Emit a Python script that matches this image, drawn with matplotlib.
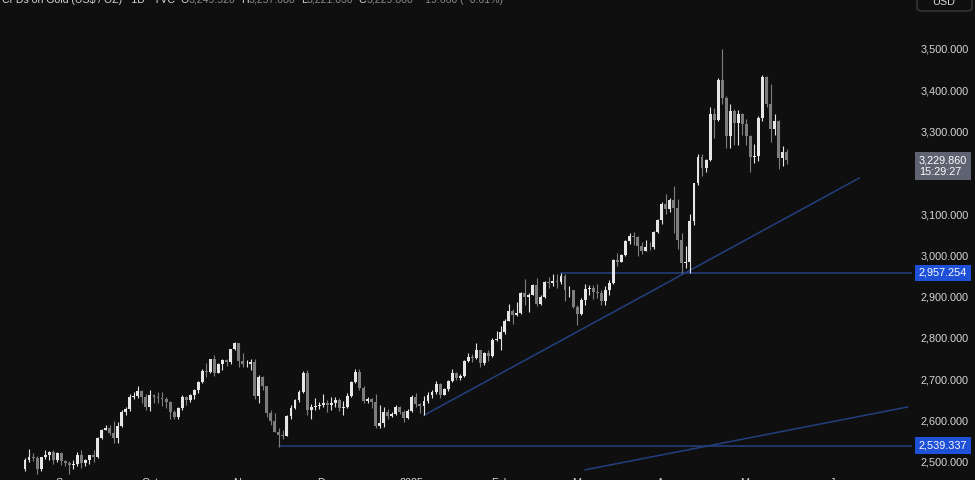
import numpy as np
import pandas as pd
import matplotlib
matplotlib.use("Agg")
from matplotlib import pyplot as plt
from matplotlib.patches import FancyBboxPatch

# CFDs on Gold (US$ / OZ), daily candles: (open, high, low, close)
aug_2024 = [(2483, 2510, 2478, 2504), (2504, 2531, 2500, 2513), (2513, 2521, 2502, 2509),
            (2509, 2514, 2470, 2484), (2484, 2513, 2478, 2512), (2512, 2528, 2508, 2518),
            (2518, 2526, 2506, 2524), (2524, 2528, 2494, 2504), (2504, 2524, 2500, 2521),
            (2521, 2524, 2493, 2503)]
sep_2024 = [(2503, 2505, 2490, 2497), (2497, 2503, 2472, 2493), (2493, 2504, 2484, 2495),
            (2495, 2524, 2491, 2516), (2516, 2529, 2485, 2497), (2497, 2507, 2491, 2506),
            (2506, 2517, 2495, 2516), (2516, 2529, 2500, 2512), (2512, 2560, 2510, 2558),
            (2558, 2581, 2556, 2578), (2578, 2590, 2577, 2582), (2582, 2589, 2566, 2569),
            (2569, 2600, 2546, 2559), (2559, 2596, 2547, 2587), (2587, 2625, 2585, 2622),
            (2622, 2634, 2614, 2628), (2628, 2664, 2624, 2657), (2657, 2670, 2652, 2659),
            (2659, 2685, 2655, 2672), (2672, 2674, 2643, 2658), (2658, 2665, 2625, 2634)]
oct_2024 = [(2634, 2673, 2624, 2663), (2663, 2664, 2642, 2658), (2658, 2670, 2643, 2656),
            (2656, 2670, 2635, 2653), (2653, 2657, 2631, 2644), (2644, 2648, 2604, 2622),
            (2622, 2625, 2603, 2608), (2608, 2633, 2605, 2631), (2631, 2661, 2626, 2657),
            (2657, 2659, 2637, 2649), (2649, 2664, 2644, 2662), (2662, 2677, 2653, 2674),
            (2674, 2696, 2666, 2693), (2693, 2725, 2690, 2721), (2721, 2740, 2705, 2718),
            (2718, 2749, 2716, 2748), (2748, 2758, 2708, 2716), (2716, 2740, 2715, 2736),
            (2736, 2749, 2722, 2747), (2747, 2748, 2732, 2743), (2743, 2774, 2738, 2774),
            (2774, 2790, 2771, 2788), (2788, 2789, 2730, 2744)]
nov_2024 = [(2744, 2763, 2731, 2736), (2736, 2746, 2729, 2738), (2738, 2750, 2723, 2743),
            (2743, 2749, 2652, 2659), (2659, 2710, 2643, 2706), (2706, 2709, 2673, 2684),
            (2684, 2685, 2610, 2619), (2619, 2626, 2589, 2598), (2598, 2618, 2573, 2573),
            (2573, 2583, 2537, 2566), (2566, 2578, 2556, 2563), (2563, 2614, 2562, 2612),
            (2612, 2639, 2604, 2631), (2631, 2653, 2627, 2651), (2651, 2674, 2645, 2670),
            (2670, 2721, 2666, 2715), (2715, 2722, 2614, 2625), (2625, 2640, 2605, 2632),
            (2632, 2656, 2625, 2636), (2636, 2646, 2627, 2639), (2639, 2665, 2634, 2643)]
dec_2024 = [(2643, 2651, 2622, 2639), (2639, 2657, 2625, 2643), (2643, 2658, 2632, 2650),
            (2650, 2656, 2623, 2631), (2631, 2647, 2614, 2633), (2633, 2668, 2630, 2660),
            (2660, 2696, 2657, 2694), (2694, 2726, 2690, 2718), (2718, 2726, 2674, 2680),
            (2680, 2685, 2642, 2648), (2648, 2658, 2643, 2652), (2652, 2655, 2631, 2646),
            (2646, 2664, 2583, 2586), (2586, 2637, 2583, 2594), (2594, 2632, 2584, 2622),
            (2622, 2627, 2603, 2612), (2612, 2622, 2609, 2617), (2617, 2639, 2613, 2634),
            (2634, 2636, 2616, 2621), (2621, 2625, 2597, 2606), (2606, 2629, 2605, 2624)]
jan_2025 = [(2624, 2662, 2621, 2658), (2658, 2666, 2634, 2640), (2640, 2643, 2618, 2636),
            (2636, 2660, 2613, 2648), (2648, 2670, 2643, 2662), (2662, 2675, 2656, 2670),
            (2670, 2697, 2665, 2689), (2689, 2691, 2656, 2662), (2662, 2679, 2661, 2677),
            (2677, 2699, 2671, 2696), (2696, 2725, 2694, 2715), (2715, 2718, 2698, 2702),
            (2702, 2713, 2698, 2708), (2708, 2746, 2705, 2745), (2745, 2763, 2741, 2755),
            (2755, 2762, 2743, 2751), (2751, 2787, 2750, 2771), (2771, 2772, 2730, 2740),
            (2740, 2765, 2735, 2763), (2763, 2770, 2745, 2757), (2757, 2799, 2753, 2795),
            (2795, 2817, 2792, 2798)]
feb_2025 = [(2798, 2830, 2772, 2815), (2815, 2845, 2810, 2842), (2842, 2882, 2840, 2866),
            (2866, 2869, 2834, 2856), (2856, 2886, 2853, 2861), (2861, 2911, 2857, 2908),
            (2908, 2942, 2880, 2898), (2898, 2910, 2864, 2905), (2905, 2930, 2903, 2928),
            (2928, 2945, 2877, 2883), (2883, 2905, 2880, 2899), (2899, 2938, 2896, 2935),
            (2935, 2947, 2922, 2933), (2933, 2955, 2925, 2939), (2939, 2954, 2920, 2935),
            (2935, 2957, 2931, 2951), (2951, 2956, 2890, 2915), (2915, 2927, 2900, 2916),
            (2916, 2917, 2872, 2876), (2876, 2880, 2832, 2858)]
mar_2025 = [(2858, 2897, 2856, 2893), (2893, 2930, 2879, 2918), (2918, 2928, 2903, 2920),
            (2920, 2929, 2894, 2911), (2911, 2930, 2896, 2910), (2910, 2915, 2880, 2889),
            (2889, 2927, 2880, 2916), (2916, 2940, 2905, 2934), (2934, 2990, 2931, 2988),
            (2988, 3005, 2975, 2984), (2984, 3004, 2983, 3001), (3001, 3038, 2998, 3034),
            (3034, 3055, 3027, 3047), (3047, 3057, 3024, 3044), (3044, 3047, 2999, 3022),
            (3022, 3033, 3004, 3011), (3011, 3036, 3011, 3020), (3020, 3033, 3012, 3019),
            (3019, 3060, 3016, 3057), (3057, 3087, 3054, 3085), (3085, 3128, 3076, 3124)]
apr_2025 = [(3124, 3149, 3100, 3112), (3112, 3139, 3105, 3134), (3134, 3168, 3054, 3114),
            (3114, 3136, 3015, 3037), (3037, 3055, 2957, 2982), (2982, 3023, 2970, 2984),
            (2984, 3099, 2958, 3083), (3083, 3175, 3073, 3175), (3175, 3245, 3170, 3237),
            (3237, 3245, 3193, 3211), (3211, 3233, 3202, 3230), (3230, 3358, 3229, 3343),
            (3343, 3357, 3283, 3327), (3327, 3430, 3326, 3424), (3424, 3500, 3367, 3381),
            (3381, 3386, 3260, 3288), (3288, 3367, 3260, 3349), (3349, 3353, 3266, 3319),
            (3319, 3352, 3268, 3343), (3343, 3345, 3292, 3317), (3317, 3329, 3268, 3288)]
may_2025 = [(3288, 3290, 3202, 3239), (3239, 3269, 3223, 3240), (3240, 3336, 3228, 3333),
            (3333, 3437, 3325, 3431), (3431, 3435, 3359, 3366), (3366, 3415, 3275, 3306),
            (3306, 3341, 3290, 3325), (3325, 3328, 3208, 3236), (3236, 3265, 3216, 3249),
            (3249.52, 3257.08, 3221.03, 3229.86)]

first_day = '2024-08-19'
axis_end = '2025-06-30'
holidays = ['2024-12-25', '2025-01-01', '2025-04-18']
month_labels = ['Sep', 'Oct', 'Nov', 'Dec', '2025', 'Feb', 'Mar', 'Apr', 'May', 'Jun']
price_ticks = [2500, 2600, 2700, 2800, 2900, 3000, 3100, 3300, 3400, 3500]

# drawings
levels = [('2024-11-14', 2539.337), ('2025-02-24', 2957.254)]
trend_lines = [[('2025-01-07', 2613), ('2025-06-09', 3187)],
               [('2025-03-04', 2481), ('2025-06-25', 2633)]]
last_price = 3229.860
countdown = '15:29:27'
legend = [('CFDs on Gold (US$ / OZ) · 1D · TVC', 'w'), ('O', 'w'), ('3,249.520', 'g'),
          ('H', 'w'), ('3,257.080', 'g'), ('L', 'w'), ('3,221.030', 'g'),
          ('C', 'w'), ('3,229.860', 'g'), ('−19.660 (−0.61%)', 'g')]

BG = '#0f0f0f'
UP = '#e6e6e6'
DOWN = '#7d7d7d'
LINE = '#22407f'
LABEL_BLUE = '#1f50d8'
TXT = '#d6d6d6'

plt.rcParams['font.family'] = ['Liberation Sans', 'DejaVu Sans']

cal = pd.bdate_range(first_day, axis_end)
cal = cal[~cal.isin(pd.to_datetime(holidays))]
pos = {d: i for i, d in enumerate(cal)}

def idx(day):
    return pos[pd.Timestamp(day)]

ohlc = np.array(aug_2024 + sep_2024 + oct_2024 + nov_2024 + dec_2024 + jan_2025 +
                feb_2025 + mar_2025 + apr_2025 + may_2025, dtype=float)
o, h, l, c = ohlc.T
x = np.arange(len(ohlc))
up = c >= o
cols = np.where(up, UP, DOWN)

fig = plt.figure(figsize=(9.75, 4.8), dpi=100, facecolor=BG)
ax = fig.add_axes([0, 0, 912 / 975, 1])
ax.set_facecolor(BG)

ax.vlines(x, l, h, colors=cols, lw=0.8, zorder=3)
body = np.maximum(np.abs(c - o), 1.0)
ax.bar(x, body, bottom=np.minimum(o, c), width=0.72, color=cols, lw=0, zorder=4)

right = (912 - 25) / 4.03
for day, p in levels:
    ax.plot([idx(day), right + 5], [p, p], color=LINE, lw=1.1, zorder=2)
for (d0, p0), (d1, p1) in trend_lines:
    ax.plot([idx(d0), idx(d1)], [p0, p1], color=LINE, lw=1.1, zorder=2)

ax.set_xlim(-25 / 4.03, right)
ax.set_ylim(2456.4, 3617.8)

ax.yaxis.tick_right()
ax.set_yticks(price_ticks)
ax.set_yticklabels([f'{v:,.3f}' for v in price_ticks])
ax.tick_params(axis='y', length=0, pad=6, labelsize=7.8, labelcolor=TXT)
ax.set_xticks([])
for s in ax.spines.values():
    s.set_visible(False)

yt = ax.get_yaxis_transform()
for day, p in levels:
    ax.text(1.0075, p, f'{p:,.3f}', transform=yt, ha='left', va='center', fontsize=7.8,
            color='white', bbox=dict(boxstyle='square,pad=0.32', fc=LABEL_BLUE, ec='none'),
            clip_on=False, zorder=6)
ax.annotate(f'{last_price:,.3f}\n{countdown}', xy=(1.0075, last_price), xycoords=yt,
            xytext=(0, -6), textcoords='offset pixels', ha='left', va='center', fontsize=7.8,
            color='white', linespacing=1.1,
            bbox=dict(boxstyle='square,pad=0.32', fc='#5f6270', ec='none'),
            annotation_clip=False, zorder=6)

# month labels, almost cut off at the bottom edge
months = cal.to_period('M')
for i, lab in enumerate(month_labels):
    first = np.argmax(months == months[0] + i + 1)
    ax.text(first, 2.5 / 480, lab, transform=ax.get_xaxis_transform(), ha='center', va='top',
            fontsize=7.8, color=TXT, clip_on=False)

# legend line at the top edge, half cut off
t = fig.text(2 / 975, 1 - 3 / 480, legend[0][0], ha='left', va='baseline', fontsize=7.6,
             color=TXT)
for s, kind in legend[1:]:
    gap = 4 if kind == 'w' or s.startswith('−') else 0
    t = ax.annotate(s, xy=(1, 0), xycoords=t, xytext=(gap, 0), textcoords='offset points',
                    ha='left', va='bottom', fontsize=7.6,
                    color=TXT if kind == 'w' else '#8a8a8a', annotation_clip=False)

# currency box, top right
fig.patches.append(FancyBboxPatch((917 / 975, 1 - 11 / 480), 55 / 975, 30 / 480,
                                  boxstyle='round,pad=0,rounding_size=0.006',
                                  transform=fig.transFigure, fc=BG, ec='#3c3c3c', lw=1))
fig.text(944 / 975, 1 - 2 / 480, 'USD', ha='center', va='center', fontsize=7.8, color=TXT)

fig.savefig('out.png', dpi=100, facecolor=BG)
